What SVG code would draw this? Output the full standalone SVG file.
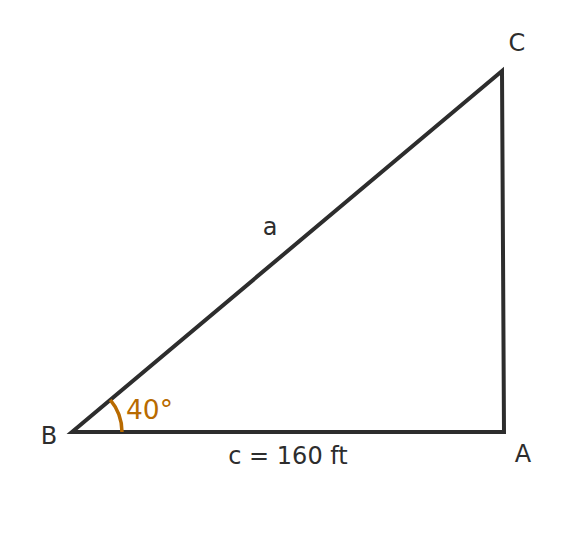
<svg xmlns="http://www.w3.org/2000/svg" width="576" height="544" viewBox="0 0 576 544">
<style>
.lbl{font-family:"DejaVu Sans",sans-serif;font-size:24px;fill:#2d2d2d}
.ang{font-family:"DejaVu Sans",sans-serif;font-size:26.5px;fill:#b86a00}
</style>
<rect width="576" height="544" fill="#ffffff"/>
<g id="connectors">
<polygon id="triangle" points="72,432 504,432 502,71" fill="none" stroke="#2d2d2d" stroke-width="4" stroke-linejoin="miter"/>
<path id="angle-arc" d="M122,432 A50,50 0 0 0 110.3,399.9" fill="none" stroke="#b86a00" stroke-width="3.5"/>
</g>
<g id="node-B"><text class="lbl" x="49" y="444" text-anchor="middle">B</text></g>
<g id="node-A"><text class="lbl" x="523" y="462" text-anchor="middle">A</text></g>
<g id="node-C"><text class="lbl" x="517" y="51" text-anchor="middle">C</text></g>
<g id="label-a"><text class="lbl" x="270" y="235" text-anchor="middle">a</text></g>
<g id="label-c"><text class="lbl" x="288" y="464" text-anchor="middle">c = 160 ft</text></g>
<g id="label-angle"><text class="ang" x="126" y="419">40°</text></g>
</svg>
